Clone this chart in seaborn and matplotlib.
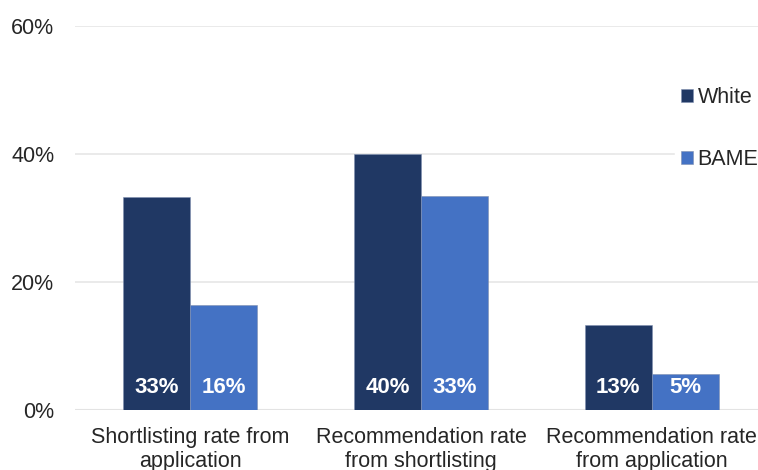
import pandas as pd
import matplotlib.pyplot as plt
import seaborn as sns

# data
stages = ['Shortlisting rate from\napplication',
          'Recommendation rate\nfrom shortlisting',
          'Recommendation rate\nfrom application']
white = [33.2, 40.0, 13.3]
bame = [16.4, 33.4, 5.6]
white_labels = ['33%', '40%', '13%']
bame_labels = ['16%', '33%', '5%']
groups = ['White', 'BAME']
colours = ['#203864', '#4472C4']

plot_data = pd.DataFrame({
    'stage': stages * 2,
    'rate': white + bame,
    'group': ['White'] * 3 + ['BAME'] * 3,
})

sns.set_style('white')
plt.rcParams['font.family'] = ['Liberation Sans', 'DejaVu Sans']

fig = plt.figure(figsize=(7.58, 4.70), dpi=100)
ax = fig.add_axes([0.099, 0.128, 0.913, 0.817])

sns.barplot(data=plot_data, x='stage', y='rate', hue='group',
            hue_order=groups, palette=colours, saturation=1,
            width=0.58, ax=ax, edgecolor='#8090b0', linewidth=0.4)

for cont, labs in zip(ax.containers, [white_labels, bame_labels]):
    for bar, lab in zip(cont, labs):
        ax.annotate(lab, (bar.get_x() + bar.get_width() / 2, 0),
                    xytext=(0, 16), textcoords='offset points',
                    ha='center', va='center', color='white',
                    fontsize=16, fontweight='bold')

ax.set_ylim(0, 60)
ax.set_yticks([0, 20, 40, 60])
ax.set_yticklabels(['0%', '20%', '40%', '60%'])
ax.yaxis.grid(True, color='#e6e6e6', linewidth=1.2)
ax.set_axisbelow(True)
ax.axhline(0, color='#d9d9d9', linewidth=1.5, zorder=0.5)
for s in ax.spines.values():
    s.set_visible(False)
ax.tick_params(axis='y', length=0, pad=15, labelsize=15.5)
ax.tick_params(axis='x', length=0, pad=12.5, labelsize=15.5)
for t in ax.get_xticklabels():
    t.set_linespacing(1.15)
ax.set_xlabel('')
ax.set_ylabel('')

leg = ax.legend(loc='upper left', bbox_to_anchor=(675 / 758, 1 - 81 / 470),
                bbox_transform=fig.transFigure, fontsize=15.5,
                frameon=True, facecolor='white', edgecolor='white',
                framealpha=1, fancybox=False, borderpad=0.3,
                handlelength=0.55, handleheight=0.55, handletextpad=0.2,
                labelspacing=1.9, borderaxespad=0)

fig.savefig('out.png', dpi=100)
